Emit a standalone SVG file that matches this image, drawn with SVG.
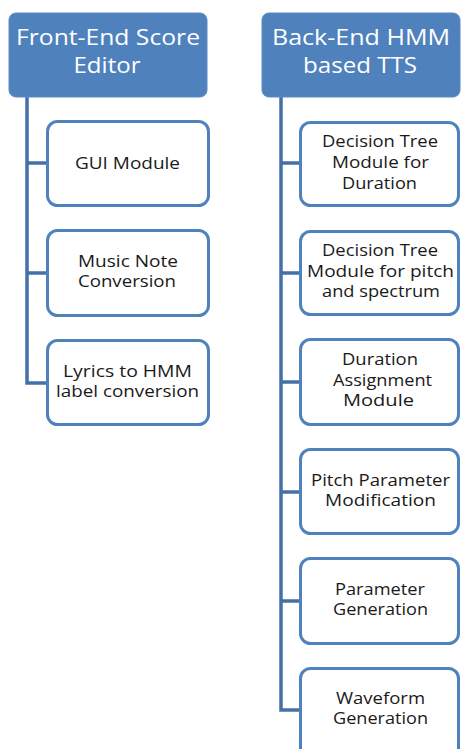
<svg xmlns="http://www.w3.org/2000/svg" width="461" height="749" viewBox="0 0 461 749">
<style>
.hdr{fill:#4F81BD;stroke:#5A8AC4;stroke-width:1}
.box{fill:#FFFFFF;stroke:#4F81BD;stroke-width:3}
.ht{font-family:"Open Sans","Liberation Sans",sans-serif;font-size:22px;fill:#FFFFFF;text-anchor:middle}
.ct{font-family:"Open Sans","Liberation Sans",sans-serif;font-size:17px;fill:#1A1A1A;text-anchor:middle}
.con{fill:none;stroke:#4470A8;stroke-width:3.5}
</style>
<rect width="461" height="749" fill="#FFFFFF"/>
<g id="connectors">
<path class="con" d="M27,97 V383 H46 M27,163 H46 M27,273 H46"/>
<path class="con" d="M281,97 V710 H299 M281,163 H299 M281,273 H299 M281,382 H299 M281,492 H299 M281,601 H299"/>
</g>
<g id="front-end">
<rect class="hdr" x="9" y="13" width="198" height="84" rx="7"/>
<text class="ht" x="108" y="45" textLength="184" lengthAdjust="spacingAndGlyphs">Front-End Score</text>
<text class="ht" x="107" y="73" textLength="67" lengthAdjust="spacingAndGlyphs">Editor</text>
</g>
<g id="back-end">
<rect class="hdr" x="262" y="13" width="198" height="84" rx="7"/>
<text class="ht" x="361" y="45" textLength="178" lengthAdjust="spacingAndGlyphs">Back-End HMM</text>
<text class="ht" x="360" y="73" textLength="114" lengthAdjust="spacingAndGlyphs">based TTS</text>
</g>
<g id="gui-module">
<rect class="box" x="47.5" y="121.5" width="161" height="84" rx="10"/>
<text class="ct" x="127.5" y="169" textLength="105" lengthAdjust="spacingAndGlyphs">GUI Module</text>
</g>
<g id="music-note">
<rect class="box" x="47.5" y="230.5" width="161" height="85" rx="10"/>
<text class="ct" x="128" y="267" textLength="100" lengthAdjust="spacingAndGlyphs">Music Note</text>
<text class="ct" x="127" y="287" textLength="98" lengthAdjust="spacingAndGlyphs">Conversion</text>
</g>
<g id="lyrics">
<rect class="box" x="47.5" y="340.5" width="161" height="84" rx="10"/>
<text class="ct" x="127.5" y="377" textLength="129" lengthAdjust="spacingAndGlyphs">Lyrics to HMM</text>
<text class="ct" x="127.5" y="397" textLength="143" lengthAdjust="spacingAndGlyphs">label conversion</text>
</g>
<g id="dt-duration">
<rect class="box" x="300.5" y="122.5" width="158" height="83" rx="10"/>
<text class="ct" x="380" y="147" textLength="116" lengthAdjust="spacingAndGlyphs">Decision Tree</text>
<text class="ct" x="380.5" y="168" textLength="97" lengthAdjust="spacingAndGlyphs">Module for</text>
<text class="ct" x="379.5" y="189" textLength="75" lengthAdjust="spacingAndGlyphs">Duration</text>
</g>
<g id="dt-pitch">
<rect class="box" x="300.5" y="231.5" width="158" height="83" rx="10"/>
<text class="ct" x="380" y="256" textLength="116" lengthAdjust="spacingAndGlyphs">Decision Tree</text>
<text class="ct" x="380.5" y="277" textLength="147" lengthAdjust="spacingAndGlyphs">Module for pitch</text>
<text class="ct" x="381" y="297" textLength="118" lengthAdjust="spacingAndGlyphs">and spectrum</text>
</g>
<g id="duration-assign">
<rect class="box" x="300.5" y="339.5" width="158" height="85" rx="10"/>
<text class="ct" x="380" y="365" textLength="76" lengthAdjust="spacingAndGlyphs">Duration</text>
<text class="ct" x="382.5" y="386" textLength="99" lengthAdjust="spacingAndGlyphs">Assignment</text>
<text class="ct" x="378.5" y="406" textLength="71" lengthAdjust="spacingAndGlyphs">Module</text>
</g>
<g id="pitch-mod">
<rect class="box" x="300.5" y="449.5" width="158" height="84" rx="10"/>
<text class="ct" x="380.5" y="486" textLength="139" lengthAdjust="spacingAndGlyphs">Pitch Parameter</text>
<text class="ct" x="380.5" y="506" textLength="111" lengthAdjust="spacingAndGlyphs">Modification</text>
</g>
<g id="param-gen">
<rect class="box" x="300.5" y="558.5" width="158" height="85" rx="10"/>
<text class="ct" x="380" y="595" textLength="90" lengthAdjust="spacingAndGlyphs">Parameter</text>
<text class="ct" x="380.5" y="615" textLength="95" lengthAdjust="spacingAndGlyphs">Generation</text>
</g>
<g id="waveform-gen">
<rect class="box" x="300.5" y="668.5" width="158" height="100" rx="10"/>
<text class="ct" x="380.5" y="704" textLength="89" lengthAdjust="spacingAndGlyphs">Waveform</text>
<text class="ct" x="380.5" y="724" textLength="95" lengthAdjust="spacingAndGlyphs">Generation</text>
</g>
</svg>
